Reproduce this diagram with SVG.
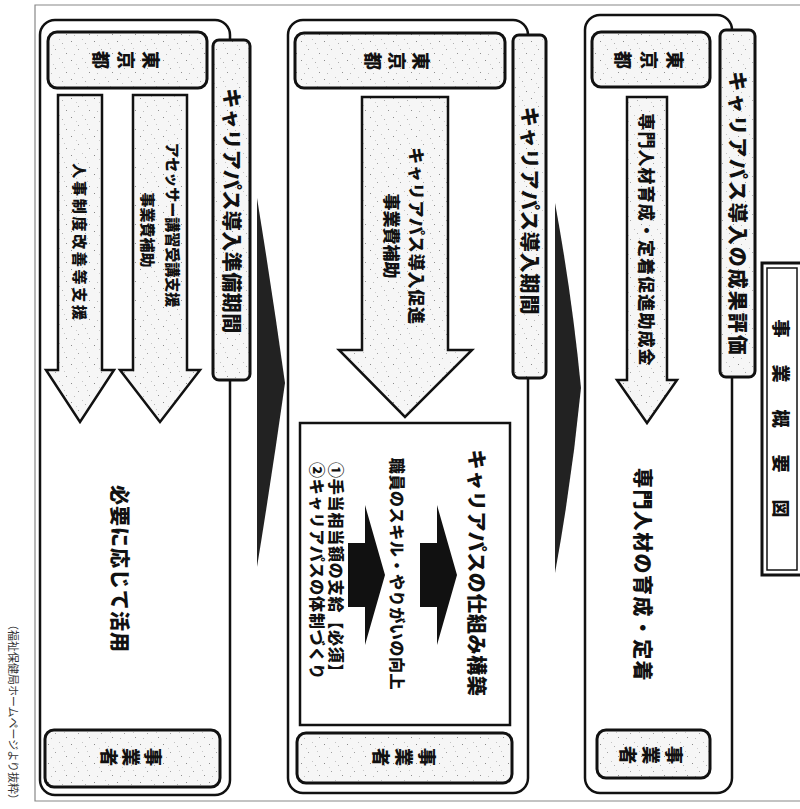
<svg xmlns="http://www.w3.org/2000/svg" width="800" height="809" viewBox="0 0 800 809">
<defs>
<pattern id="sp" width="23" height="19" patternUnits="userSpaceOnUse">
<rect width="23" height="19" fill="#f6f6f6"/>
<rect x="2" y="3" width="1" height="1" fill="#8a8a8a"/>
<rect x="9" y="11" width="1" height="1" fill="#a0a0a0"/>
<rect x="16" y="5" width="1" height="1" fill="#b0b0b0"/>
<rect x="20" y="15" width="1" height="1" fill="#909090"/>
<rect x="5" y="16" width="1" height="1" fill="#bbbbbb"/>
<rect x="13" y="1" width="1" height="1" fill="#c4c4c4"/>
<rect x="18" y="10" width="1" height="1" fill="#c8c8c8"/>
<rect x="7" y="7" width="1" height="1" fill="#cccccc"/>
</pattern>
<style>
.col{fill:#fff;stroke:#111;stroke-width:2.5}
.box{fill:url(#sp);stroke:#111;stroke-width:3}
.arr{fill:url(#sp);stroke:#111;stroke-width:2.5}
.blk{fill:#111}
.wedge{fill:#222}
.frame{fill:none;stroke:#888;stroke-width:1.2}
.t{font-family:"Noto Sans CJK JP","Noto Sans CJK SC",sans-serif;font-weight:900;fill:#111;text-anchor:middle;dominant-baseline:central}
.s{text-anchor:start}
.cap{font-family:"Noto Sans CJK JP","Noto Sans CJK SC",sans-serif;font-weight:400;fill:#333;text-anchor:middle;dominant-baseline:central}
</style>
</defs>
<rect width="800" height="809" fill="#fff"/>

<g id="frame">
<path class="frame" d="M800,5 H35 V801 H800"/>
<text class="cap" font-size="11" transform="translate(14,712) rotate(90)">（福祉保健局ホームページより抜粋）</text>
</g>

<g id="column1">
<rect class="col" x="40" y="20" width="190" height="775" rx="15"/>
</g>
<g id="column2">
<rect class="col" x="288" y="20" width="240" height="773" rx="15"/>
</g>
<g id="column3">
<rect class="col" x="585" y="15" width="147" height="778" rx="15"/>
</g>

<g id="connectors">
<path class="wedge" d="M257,198 Q272,290 285,383 Q272,475 257,567 Z"/>
<path class="wedge" d="M555,203 Q572,295 581,388 Q572,480 555,573 Z"/>
<path class="arr" d="M58,95 H102 V370 H114 L80,422 L46,370 H58 Z"/>
<text class="t" font-size="15" letter-spacing="2.7" transform="translate(80,243) rotate(90)">人事制度改善等支援</text>
<path class="arr" d="M133,95 H187 V370 H200 L160,422 L120,370 H133 Z"/>
<text class="t" font-size="15" transform="translate(173,225) rotate(90)">アセッサー講習受講支援</text>
<text class="t" font-size="15" transform="translate(148,230) rotate(90)">事業費補助</text>
<path class="arr" d="M362,97 H448 V350 H472 L405,417 L339,350 H362 Z"/>
<text class="t" font-size="17" letter-spacing="0.8" transform="translate(417,236) rotate(90)">キャリアパス導入促進</text>
<text class="t" font-size="17" transform="translate(392,236) rotate(90)">事業費補助</text>
<path class="arr" d="M627,97 H667 V380 H677 L647,423 L617,380 H627 Z"/>
<text class="t" font-size="17" letter-spacing="1.1" transform="translate(647,240) rotate(90)">専門人材育成・定着促進助成金</text>
</g>

<g id="label1">
<rect class="box" x="213" y="40" width="37" height="340" rx="6"/>
<text class="t" font-size="20" letter-spacing="0.5" transform="translate(232,211) rotate(90)">キャリアパス導入準備期間</text>
</g>
<g id="label2">
<rect class="box" x="513" y="35" width="33" height="343" rx="6"/>
<text class="t" font-size="20" letter-spacing="0.9" transform="translate(530,211) rotate(90)">キャリアパス導入期間</text>
</g>
<g id="label3">
<rect class="box" x="720" y="30" width="35" height="347" rx="6"/>
<text class="t" font-size="20" letter-spacing="2" transform="translate(738,214) rotate(90)">キャリアパス導入の成果評価</text>
</g>

<g id="tokyo1">
<rect class="box" x="48" y="32" width="159" height="56" rx="9"/>
<text class="t s" font-size="18" transform="translate(127,60) rotate(90)"><tspan x="-9" y="-25">東</tspan><tspan x="-9" y="0">京</tspan><tspan x="-9" y="25">都</tspan></text>
</g>
<g id="tokyo2">
<rect class="box" x="295" y="33" width="210" height="55" rx="9"/>
<text class="t s" font-size="18" transform="translate(398,61) rotate(90)"><tspan x="-9" y="-24">東</tspan><tspan x="-9" y="0">京</tspan><tspan x="-9" y="24">都</tspan></text>
</g>
<g id="tokyo3">
<rect class="box" x="592" y="32" width="118" height="55" rx="9"/>
<text class="t s" font-size="18" transform="translate(650,60) rotate(90)"><tspan x="-9" y="-26">東</tspan><tspan x="-9" y="0">京</tspan><tspan x="-9" y="26">都</tspan></text>
</g>

<g id="result1">
<text class="t" font-size="20" letter-spacing="1" transform="translate(120,569) rotate(90)">必要に応じて活用</text>
</g>

<g id="result2">
<rect x="300" y="423" width="210" height="302" fill="#fff" stroke="#111" stroke-width="2.5"/>
<text class="t" font-size="20" letter-spacing="0.6" transform="translate(477,573) rotate(90)">キャリアパスの仕組み構築</text>
<path class="blk" d="M420,543 H437 V505 L457,575 L437,645 V607 H420 Z"/>
<text class="t" font-size="16" letter-spacing="0.6" transform="translate(398,574) rotate(90)">職員のスキル・やりがいの向上</text>
<path class="blk" d="M348,543 H365 V505 L385,575 L365,645 V607 H348 Z"/>
<text class="t s" font-size="16" letter-spacing="0.8" transform="translate(337,462) rotate(90)">①手当相当額の支給【必須】</text>
<text class="t s" font-size="16" letter-spacing="0.8" transform="translate(318,462) rotate(90)">②キャリアパスの体制づくり</text>
</g>

<g id="result3">
<text class="t" font-size="20" letter-spacing="1.4" transform="translate(643,575) rotate(90)">専門人材の育成・定着</text>
</g>

<g id="jigyosha1">
<rect class="box" x="45" y="730" width="175" height="57" rx="9"/>
<text class="t s" font-size="18" transform="translate(132,757) rotate(90)"><tspan x="-9" y="-22">事</tspan><tspan x="-9" y="0">業</tspan><tspan x="-9" y="22">者</tspan></text>
</g>
<g id="jigyosha2">
<rect class="box" x="297" y="733" width="215" height="50" rx="9"/>
<text class="t s" font-size="18" transform="translate(405,757) rotate(90)"><tspan x="-9" y="-23">事</tspan><tspan x="-9" y="0">業</tspan><tspan x="-9" y="23">者</tspan></text>
</g>
<g id="jigyosha3">
<rect class="box" x="597" y="730" width="113" height="48" rx="9"/>
<text class="t s" font-size="18" transform="translate(652,755) rotate(90)"><tspan x="-9" y="-23">事</tspan><tspan x="-9" y="0">業</tspan><tspan x="-9" y="23">者</tspan></text>
</g>

<g id="title">
<rect x="762" y="263" width="44" height="312" fill="#fff" stroke="#111" stroke-width="3"/>
<rect x="767" y="268" width="30" height="302" fill="none" stroke="#111" stroke-width="1.5"/>
<text class="t" font-size="18" letter-spacing="27" transform="translate(782,432) rotate(90)">事業概要図</text>
</g>
</svg>
